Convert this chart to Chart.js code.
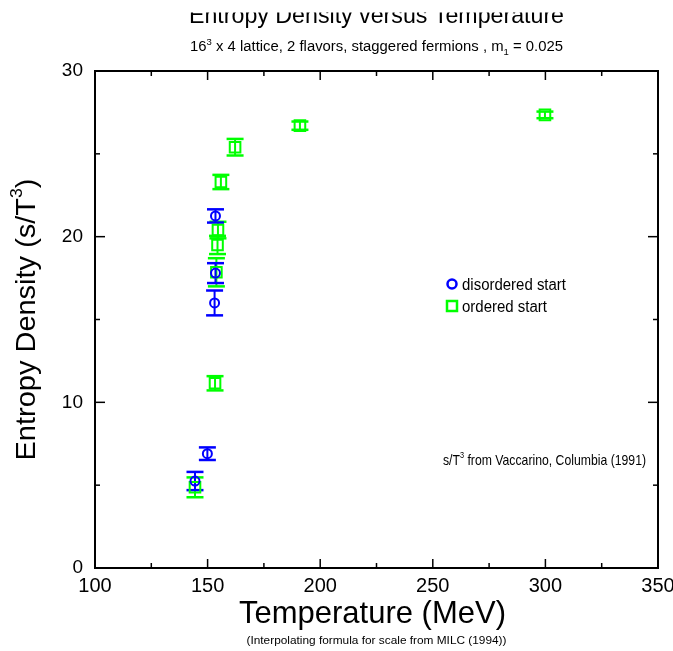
<!DOCTYPE html>
<html>
<head>
<meta charset="utf-8">
<script src="https://cdn.jsdelivr.net/npm/chart.js@4/dist/chart.umd.min.js"></script>
<style>
  html, body { margin: 0; padding: 0; background: #fff; }
  canvas { display: block; }
</style>
</head>
<body>
<canvas id="chart" width="673" height="651"></canvas>
<script>
const FONT = "'Liberation Sans', Arial, Helvetica, sans-serif";

// disordered start (blue circles)
const disorderedT = [144.4, 149.9, 153.1, 153.5, 153.5];
const disorderedS = [5.25, 6.9, 16.0, 17.8, 21.25];
const disorderedErr = [0.55, 0.38, 0.75, 0.6, 0.4];

// ordered start (green squares)
const orderedT = [144.4, 153.3, 153.9, 154.4, 154.6, 155.9, 162.2, 191.0, 299.8];
const orderedS = [4.87, 11.15, 17.85, 19.5, 20.4, 23.3, 25.4, 26.7, 27.35];
const orderedErr = [0.6, 0.43, 0.85, 0.55, 0.5, 0.43, 0.5, 0.25, 0.2];

// labelled ticks (minor ticks every 25 MeV / 5 units)
const xTickLabels = [100, 150, 200, 250, 300, 350];
const yTickLabels = [0, 10, 20, 30];

const toPoints = (xs, ys) => xs.map((x, i) => ({ x, y: ys[i] }));

// draw a string made of pieces (super/subscripts), squeezed to a width
function richText(ctx, parts, x, y, size, align, width) {
  ctx.save();
  let natural = 0;
  parts.forEach((p) => {
    ctx.font = `${p.sup || p.sub ? Math.round(size * 0.62) : size}px ${FONT}`;
    natural += ctx.measureText(p.t).width;
  });
  const sx = width ? width / natural : 1;
  const w = natural * sx;
  const x0 = align === 'center' ? x - w / 2 : align === 'right' ? x - w : x;
  ctx.translate(x0, y);
  ctx.scale(sx, 1);
  ctx.fillStyle = '#000';
  ctx.textBaseline = 'alphabetic';
  ctx.textAlign = 'left';
  let cx = 0;
  parts.forEach((p) => {
    const small = p.sup || p.sub;
    ctx.font = `${small ? Math.round(size * 0.62) : size}px ${FONT}`;
    const dy = p.sup ? -size * 0.45 : p.sub ? size * 0.25 : 0;
    ctx.fillText(p.t, cx, dy);
    cx += ctx.measureText(p.t).width;
  });
  ctx.restore();
}

const line = (ctx, x1, y1, x2, y2) => {
  ctx.beginPath();
  ctx.moveTo(x1, y1);
  ctx.lineTo(x2, y2);
  ctx.stroke();
};

// error bars under the markers
const errorBars = {
  id: 'errorBars',
  beforeDatasetsDraw(chart) {
    const { ctx, scales: { x, y } } = chart;
    for (let d = chart.data.datasets.length - 1; d >= 0; d--) {
      const ds = chart.data.datasets[d];
      ctx.save();
      ctx.strokeStyle = ds.borderColor;
      ds.data.forEach((p, i) => {
        const px = x.getPixelForValue(p.x);
        const top = y.getPixelForValue(p.y + ds.yErr[i]);
        const bot = y.getPixelForValue(p.y - ds.yErr[i]);
        ctx.lineWidth = 2;
        line(ctx, px, top, px, bot);
        ctx.lineWidth = 2.5;
        line(ctx, px - 8.5, top, px + 8.5, top);
        line(ctx, px - 8.5, bot, px + 8.5, bot);
      });
      ctx.restore();
    }
  }
};

// box frame with inward ticks on all four sides, plus the texts
const frameAndText = {
  id: 'frameAndText',
  afterDraw(chart) {
    const { ctx, chartArea: a, scales: { x, y } } = chart;
    ctx.save();
    ctx.strokeStyle = '#000';
    ctx.lineWidth = 1.5;
    x.ticks.forEach((t) => {
      const px = x.getPixelForValue(t.value);
      const len = xTickLabels.includes(t.value) ? 9 : 5;
      line(ctx, px, a.bottom, px, a.bottom - len);
      line(ctx, px, a.top, px, a.top + len);
    });
    y.ticks.forEach((t) => {
      const py = y.getPixelForValue(t.value);
      const len = yTickLabels.includes(t.value) ? 10 : 5;
      line(ctx, a.left, py, a.left + len, py);
      line(ctx, a.right, py, a.right - len, py);
    });
    ctx.lineWidth = 2;
    ctx.strokeRect(a.left, a.top, a.right - a.left, a.bottom - a.top);
    ctx.restore();

    const cx = (a.left + a.right) / 2;

    // title, top of the letters cropped as in the source figure
    ctx.save();
    ctx.beginPath();
    ctx.rect(0, 12.5, chart.width, 40);
    ctx.clip();
    richText(ctx, [{ t: 'Entropy Density versus Temperature' }], cx, 23, 24, 'center', 375);
    ctx.restore();

    richText(ctx, [
      { t: '16' }, { t: '3', sup: true },
      { t: ' x 4 lattice, 2 flavors, staggered fermions , m' }, { t: '1', sub: true },
      { t: ' = 0.025' }
    ], cx, 51, 14, 'center', 373);

    // axis titles
    richText(ctx, [{ t: 'Temperature (MeV)' }], cx - 4, 623, 32, 'center', 267);
    richText(ctx, [{ t: '(Interpolating formula for scale from MILC (1994))' }], cx, 644, 11, 'center', 260);

    ctx.save();
    ctx.translate(35, (a.top + a.bottom) / 2);
    ctx.rotate(-Math.PI / 2);
    richText(ctx, [{ t: 'Entropy Density (s/T' }, { t: '3', sup: true }, { t: ')' }], 0, 0, 28, 'center', 282);
    ctx.restore();

    // annotation
    richText(ctx, [
      { t: 's/T' }, { t: '3', sup: true }, { t: ' from Vaccarino, Columbia (1991)' }
    ], a.left + 348, 465, 15, 'left', 203);

    // legend inside the plot
    const lx = a.left + 357;
    chart.data.datasets.forEach((ds, i) => {
      const ly = a.top + 213 + i * 22;
      ctx.save();
      ctx.strokeStyle = ds.borderColor;
      ctx.lineWidth = 2.5;
      ctx.beginPath();
      if (ds.pointStyle === 'circle') ctx.arc(lx, ly, 4.5, 0, Math.PI * 2);
      else ctx.rect(lx - 5, ly - 5, 10, 10);
      ctx.stroke();
      ctx.restore();
      richText(ctx, [{ t: ds.label }], lx + 10, ly + 6, 16, 'left', ds.labelWidth);
    });
  }
};

new Chart(document.getElementById('chart'), {
  type: 'scatter',
  data: {
    datasets: [
      {
        label: 'disordered start',
        data: toPoints(disorderedT, disorderedS),
        yErr: disorderedErr,
        labelWidth: 104,
        pointStyle: 'circle',
        pointRadius: 4.5,
        pointHoverRadius: 4.5,
        borderWidth: 2,
        borderColor: '#0000ff',
        backgroundColor: 'rgba(0,0,0,0)'
      },
      {
        label: 'ordered start',
        data: toPoints(orderedT, orderedS),
        yErr: orderedErr,
        labelWidth: 85,
        pointStyle: 'rect',
        pointRadius: 7.5,
        pointHoverRadius: 7.5,
        borderWidth: 2,
        borderColor: '#00ff00',
        backgroundColor: 'rgba(0,0,0,0)'
      }
    ]
  },
  options: {
    responsive: false,
    animation: false,
    layout: { padding: { top: 71, right: 15, left: 0, bottom: 0 } },
    plugins: {
      legend: { display: false },
      tooltip: { enabled: false }
    },
    scales: {
      x: {
        type: 'linear',
        min: 100,
        max: 350,
        grid: { display: false, drawTicks: false },
        border: { display: false },
        ticks: {
          stepSize: 25,
          autoSkip: false,
          maxRotation: 0,
          padding: 6,
          color: '#000',
          font: { family: FONT, size: 20 },
          callback: (v) => (xTickLabels.includes(v) ? String(v) : '')
        },
        afterFit: (scale) => {
          scale.height = 83;
          scale.paddingLeft = 0;
          scale.paddingRight = 0;
        }
      },
      y: {
        type: 'linear',
        min: 0,
        max: 30,
        grid: { display: false, drawTicks: false },
        border: { display: false },
        ticks: {
          stepSize: 5,
          autoSkip: false,
          padding: 12,
          color: '#000',
          font: { family: FONT, size: 19 },
          callback: (v) => (yTickLabels.includes(v) ? String(v) : '')
        },
        afterFit: (scale) => {
          scale.width = 95;
          scale.paddingTop = 0;
          scale.paddingBottom = 0;
        }
      }
    }
  },
  plugins: [errorBars, frameAndText]
});
</script>
</body>
</html>
